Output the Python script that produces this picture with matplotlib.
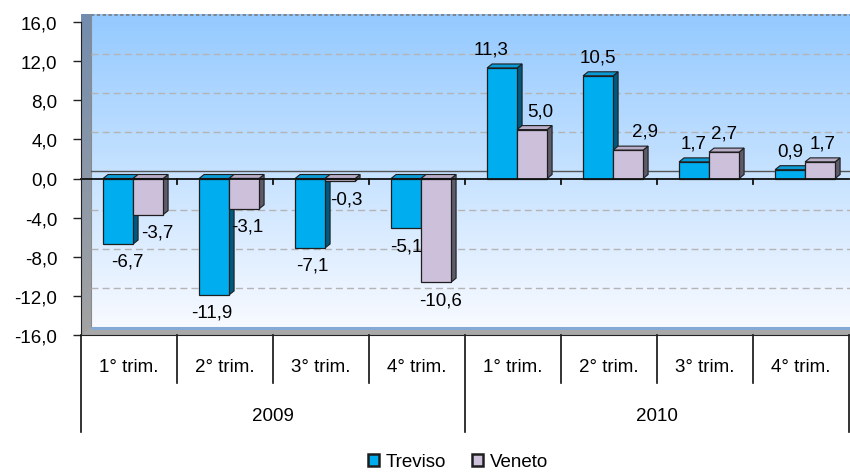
"""
Variazione percentuale trimestrale: Treviso vs Veneto, 2009-2010
grafico a barre con effetto 3D
"""

import numpy as np
import matplotlib.pyplot as plt
from matplotlib.patches import Rectangle, Polygon, Patch

plt.rcParams['font.family'] = ['Liberation Sans', 'DejaVu Sans']
plt.rcParams['font.size'] = 13.5

## Dati

quarters = ['1° trim.', '2° trim.', '3° trim.', '4° trim.',
            '1° trim.', '2° trim.', '3° trim.', '4° trim.']
years = ['2009', '2010']
treviso = [-6.7, -11.9, -7.1, -5.1, 11.3, 10.5, 1.7, 0.9]
veneto = [-3.7, -3.1, -0.3, -10.6, 5.0, 2.9, 2.7, 1.7]
y_ticks = [-16, -12, -8, -4, 0, 4, 8, 12, 16]

# small horizontal nudges (px) for labels that sit off-centre
nudge_treviso = [9, -2, 2, 0, -11, 0, 0, 0]
nudge_veneto = [9, 3, 6, 4, 8, 17, 0, 3]

c_tv, c_tv_side, c_tv_top = '#00AEEF', '#005A80', '#0a9ad6'
c_ve, c_ve_side, c_ve_top = '#CCC0DA', '#5f5b6b', '#b9adc8'
edge = '#1e1e1e'

W, H = 850, 477
fig = plt.figure(figsize=(W / 100, H / 100), dpi=100)
# front plane: x 81..849 px, y 23..336 px
ax = fig.add_axes([81 / W, (H - 336) / H, 768 / W, 313 / H])
ax.set_xlim(0, 8)
ax.set_ylim(-16, 16)

px_x = 768 / 8.0
px_y = 313 / 32.0
dxw, dyw = 10 / px_x, 7.5 / px_y      # wall depth
dxb, dyb = 5 / px_x, 4 / px_y         # bar depth

## Walls

grad = np.linspace(0, 1, 256)[:, None]
top_c = np.array([0.58, 0.79, 1.00])
bot_c = np.array([0.97, 0.98, 1.00])
img = top_c * (1 - grad[..., None]) + bot_c * grad[..., None]
img = np.repeat(img, 2, axis=1)
ax.imshow(img, extent=(dxw, 8.2, -16 + dyw, 16 + dyw), aspect='auto',
          zorder=0, clip_on=False, interpolation='bilinear')

side_img = (np.array([0.45, 0.55, 0.68]) * (1 - grad[..., None]) +
            np.array([0.64, 0.64, 0.64]) * grad[..., None])
side_img = np.repeat(side_img, 2, axis=1)
side_wall = Polygon([(0, -16), (0, 16), (dxw, 16 + dyw), (dxw, -16 + dyw)],
                    closed=True, facecolor='none', edgecolor='none',
                    transform=ax.transData)
im = ax.imshow(side_img, extent=(0, dxw, -16, 16 + dyw), aspect='auto',
               zorder=0.5, clip_on=False, interpolation='bilinear')
im.set_clip_path(side_wall)
ax.add_patch(Polygon([(dxw, 16 + dyw), (dxw, -16 + dyw)], closed=False,
                     fill=False, edgecolor='#8a8a8a', lw=0.8, zorder=0.6,
                     clip_on=False))

floor = Polygon([(0, -16), (dxw, -16 + dyw), (8.2, -16 + dyw), (8.2, -16)],
                closed=True, facecolor='#a8a8a8', edgecolor='none',
                zorder=0.7, clip_on=False)
ax.add_patch(floor)
ax.plot([dxw, 8.2], [-16 + dyw, -16 + dyw], color='#86aad6', lw=2.2,
        zorder=0.8, clip_on=False, solid_capstyle='butt')

# dashed border on top of the back wall
ax.plot([dxw, 8.2], [16 + dyw, 16 + dyw], color='#7a7a7a', lw=1.2,
        ls=(0, (2, 1.5)), zorder=0.8, clip_on=False)

## Gridlines on the back wall

for t in y_ticks[1:-1]:
    if t == 0:
        continue
    ax.plot([dxw, 8.2], [t + dyw, t + dyw], color='#b4b4b4', lw=1.0,
            ls=(0, (5, 3)), zorder=1, clip_on=False)
ax.plot([dxw, 8.2], [dyw, dyw], color='#555555', lw=1.0, zorder=1,
        clip_on=False)


## Bars

def bar3d(x0, w, v, face, side, top):
    y0, y1 = min(0, v), max(0, v)
    ax.add_patch(Polygon([(x0 + w, y0), (x0 + w + dxb, y0 + dyb),
                          (x0 + w + dxb, y1 + dyb), (x0 + w, y1)],
                         closed=True, facecolor=side, edgecolor=edge,
                         lw=0.8, zorder=3))
    ax.add_patch(Polygon([(x0, y1), (x0 + dxb, y1 + dyb),
                          (x0 + w + dxb, y1 + dyb), (x0 + w, y1)],
                         closed=True, facecolor=top, edgecolor=edge,
                         lw=0.8, zorder=3))
    ax.add_patch(Rectangle((x0, y0), w, y1 - y0, facecolor=face,
                           edgecolor=edge, lw=0.9, zorder=3))


def label(xc, v, dx_px):
    txt = '{:.1f}'.format(v).replace('.', ',')
    off = 13.5 if v >= 0 else -12.5
    ax.annotate(txt, xy=(xc, v), xytext=(dx_px / 1.389, off),
                textcoords='offset points', ha='center', va='center',
                zorder=6, annotation_clip=False)


bw = 0.3125
for i in range(len(quarters)):
    x_tv = i + 0.23
    x_ve = x_tv + bw
    bar3d(x_tv, bw, treviso[i], c_tv, c_tv_side, c_tv_top)
    bar3d(x_ve, bw, veneto[i], c_ve, c_ve_side, c_ve_top)
    label(x_tv + bw / 2, treviso[i], nudge_treviso[i])
    label(x_ve + bw / 2, veneto[i], nudge_veneto[i])

## Axes

# front zero line with category ticks
ax.plot([0, 8], [0, 0], color='#111111', lw=1.3, zorder=4, clip_on=False)
for i in range(1, 8):
    ax.plot([i, i], [0, -5 / px_y], color='#111111', lw=1.3, zorder=4)

for s in ['top', 'right']:
    ax.spines[s].set_visible(False)
ax.spines['left'].set_color('#222222')
ax.spines['bottom'].set_color('#222222')
ax.spines['left'].set_zorder(5)
ax.spines['bottom'].set_zorder(5)

ax.set_yticks(y_ticks)
ax.set_yticklabels(['{:.1f}'.format(t).replace('.', ',') for t in y_ticks])
ax.tick_params(axis='y', direction='out', length=6, width=1.0,
               color='#222222', pad=11)
ax.set_xticks([])

# two-level category axis
short_len = 48 / px_y
long_len = 97 / px_y
for i in range(9):
    ln = long_len if i % 4 == 0 else short_len
    ax.plot([i, i], [-16, -16 - ln], color='#111111', lw=1.2,
            clip_on=False)
for i, q in enumerate(quarters):
    ax.text(i + 0.5, -16 - 32 / px_y, q, ha='center', va='center')
for j, yr in enumerate(years):
    ax.text(4 * j + 2, -16 - 81 / px_y, yr, ha='center', va='center')

## Legend

handles = [Patch(facecolor=c_tv, edgecolor=edge, lw=1.8, label='Treviso'),
           Patch(facecolor=c_ve, edgecolor=edge, lw=1.8, label='Veneto')]
fig.legend(handles=handles, loc='center', bbox_to_anchor=(458 / W, 1 - 463 / H),
           ncol=2, frameon=False, handlelength=0.6, handleheight=0.6,
           handletextpad=0.35, columnspacing=1.4)

fig.savefig('out.png', dpi=100)
